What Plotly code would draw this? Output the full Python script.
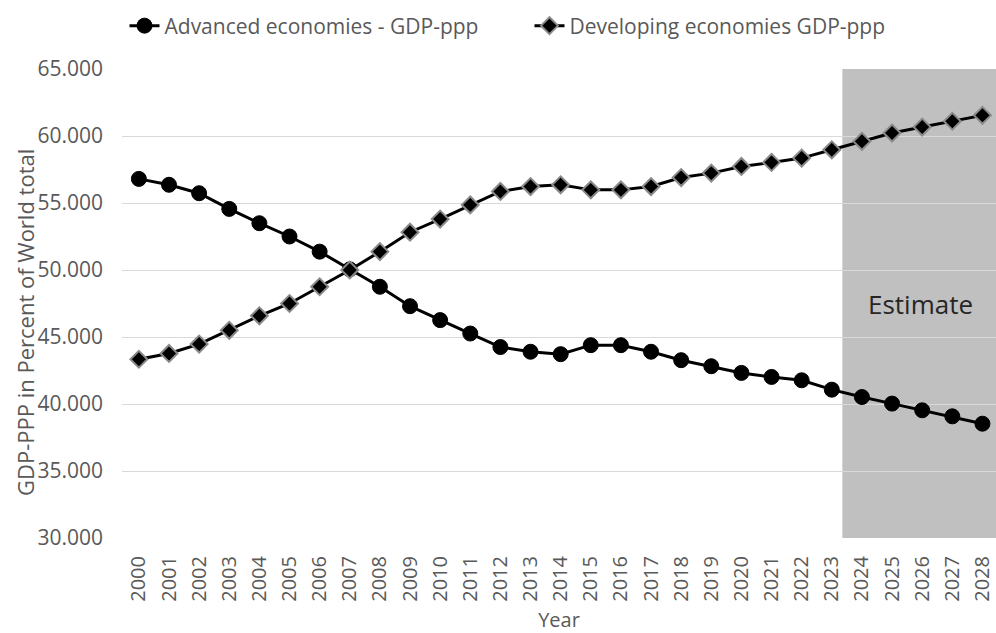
import plotly.graph_objects as go

years = list(range(2000, 2029))
advanced = [56.80, 56.36, 55.73, 54.56, 53.49, 52.50, 51.37, 50.05, 48.75, 47.30,
            46.26, 45.26, 44.25, 43.90, 43.72, 44.39, 44.39, 43.90, 43.27, 42.82,
            42.32, 42.02, 41.77, 41.07, 40.52, 40.03, 39.53, 39.08, 38.53]
developing = [43.34, 43.77, 44.47, 45.50, 46.58, 47.50, 48.75, 50.00, 51.37, 52.82,
              53.80, 54.86, 55.86, 56.23, 56.36, 55.98, 55.98, 56.23, 56.90, 57.23,
              57.73, 58.03, 58.35, 58.97, 59.60, 60.22, 60.67, 61.10, 61.54]
yticks = [30, 35, 40, 45, 50, 55, 60, 65]
estimate_start = 2023.35
estimate_label = "Estimate"

FONT = "Open Sans"
GRAY = "#595959"
W, H = 996, 633
ML, MR, MT, MB = 122, 0, 69, 95
X_MAX = 2028.45

fig = go.Figure()
fig.add_trace(go.Scatter(
    x=years, y=advanced, name="Advanced economies - GDP-ppp",
    mode="lines+markers",
    line=dict(color="black", width=3),
    marker=dict(symbol="circle", size=15, color="black", line=dict(color="black", width=1)),
))
fig.add_trace(go.Scatter(
    x=years, y=developing, name="Developing economies GDP-ppp",
    mode="lines+markers",
    line=dict(color="black", width=3),
    marker=dict(symbol="diamond", size=13, color="black", line=dict(color="#8a8a8a", width=2)),
))

fig.add_shape(type="rect", xref="x", yref="y", x0=estimate_start, x1=X_MAX,
              y0=30, y1=65, fillcolor="#c0c0c0", line=dict(width=0), layer="below")

fig.add_annotation(x=2025.95, y=47.5, xref="x", yref="y", text=estimate_label,
                   showarrow=False, font=dict(family=FONT, size=26, color="#262626"))

plot_h = H - MT - MB
plot_w = W - ML - MR
fig.add_annotation(x=(25 - ML) / plot_w, y=(H - MB - 323) / plot_h,
                   xref="paper", yref="paper", xanchor="center", yanchor="middle",
                   text="GDP-PPP in Percent of World total",
                   showarrow=False, textangle=-90,
                   font=dict(family=FONT, size=22, color=GRAY))

fig.update_layout(
    width=W, height=H,
    margin=dict(l=ML, r=MR, t=MT, b=MB, autoexpand=False),
    paper_bgcolor="white", plot_bgcolor="white",
    font=dict(family=FONT, size=21, color=GRAY),
    showlegend=True,
    legend=dict(orientation="h", xref="container", yref="container",
                x=0.125, y=1 - 26 / H, xanchor="left", yanchor="middle",
                font=dict(family=FONT, size=21, color=GRAY),
                bgcolor="rgba(0,0,0,0)", itemwidth=30,
                entrywidth=360, entrywidthmode="pixels"),
    xaxis=dict(range=[1999.44, X_MAX], tickmode="array", tickvals=years,
               ticktext=[str(y) for y in years], tickangle=-90,
               tickfont=dict(size=20), ticklabeloverflow="allow", automargin=False,
               showgrid=False, zeroline=False, showline=False, ticks="",
               ticklabelstandoff=13,
               title=dict(text="Year", font=dict(family=FONT, size=20, color=GRAY), standoff=14)),
    yaxis=dict(range=[30, 65], tickvals=yticks, tickformat=".3f", automargin=False,
               showgrid=True, gridcolor="#d9d9d9", gridwidth=1,
               zeroline=False, showline=False, ticks="", ticklabelstandoff=18),
)

fig.write_html("out.html", config={"displayModeBar": False},
               post_script="document.body.style.margin='0';document.body.style.padding='0';")
